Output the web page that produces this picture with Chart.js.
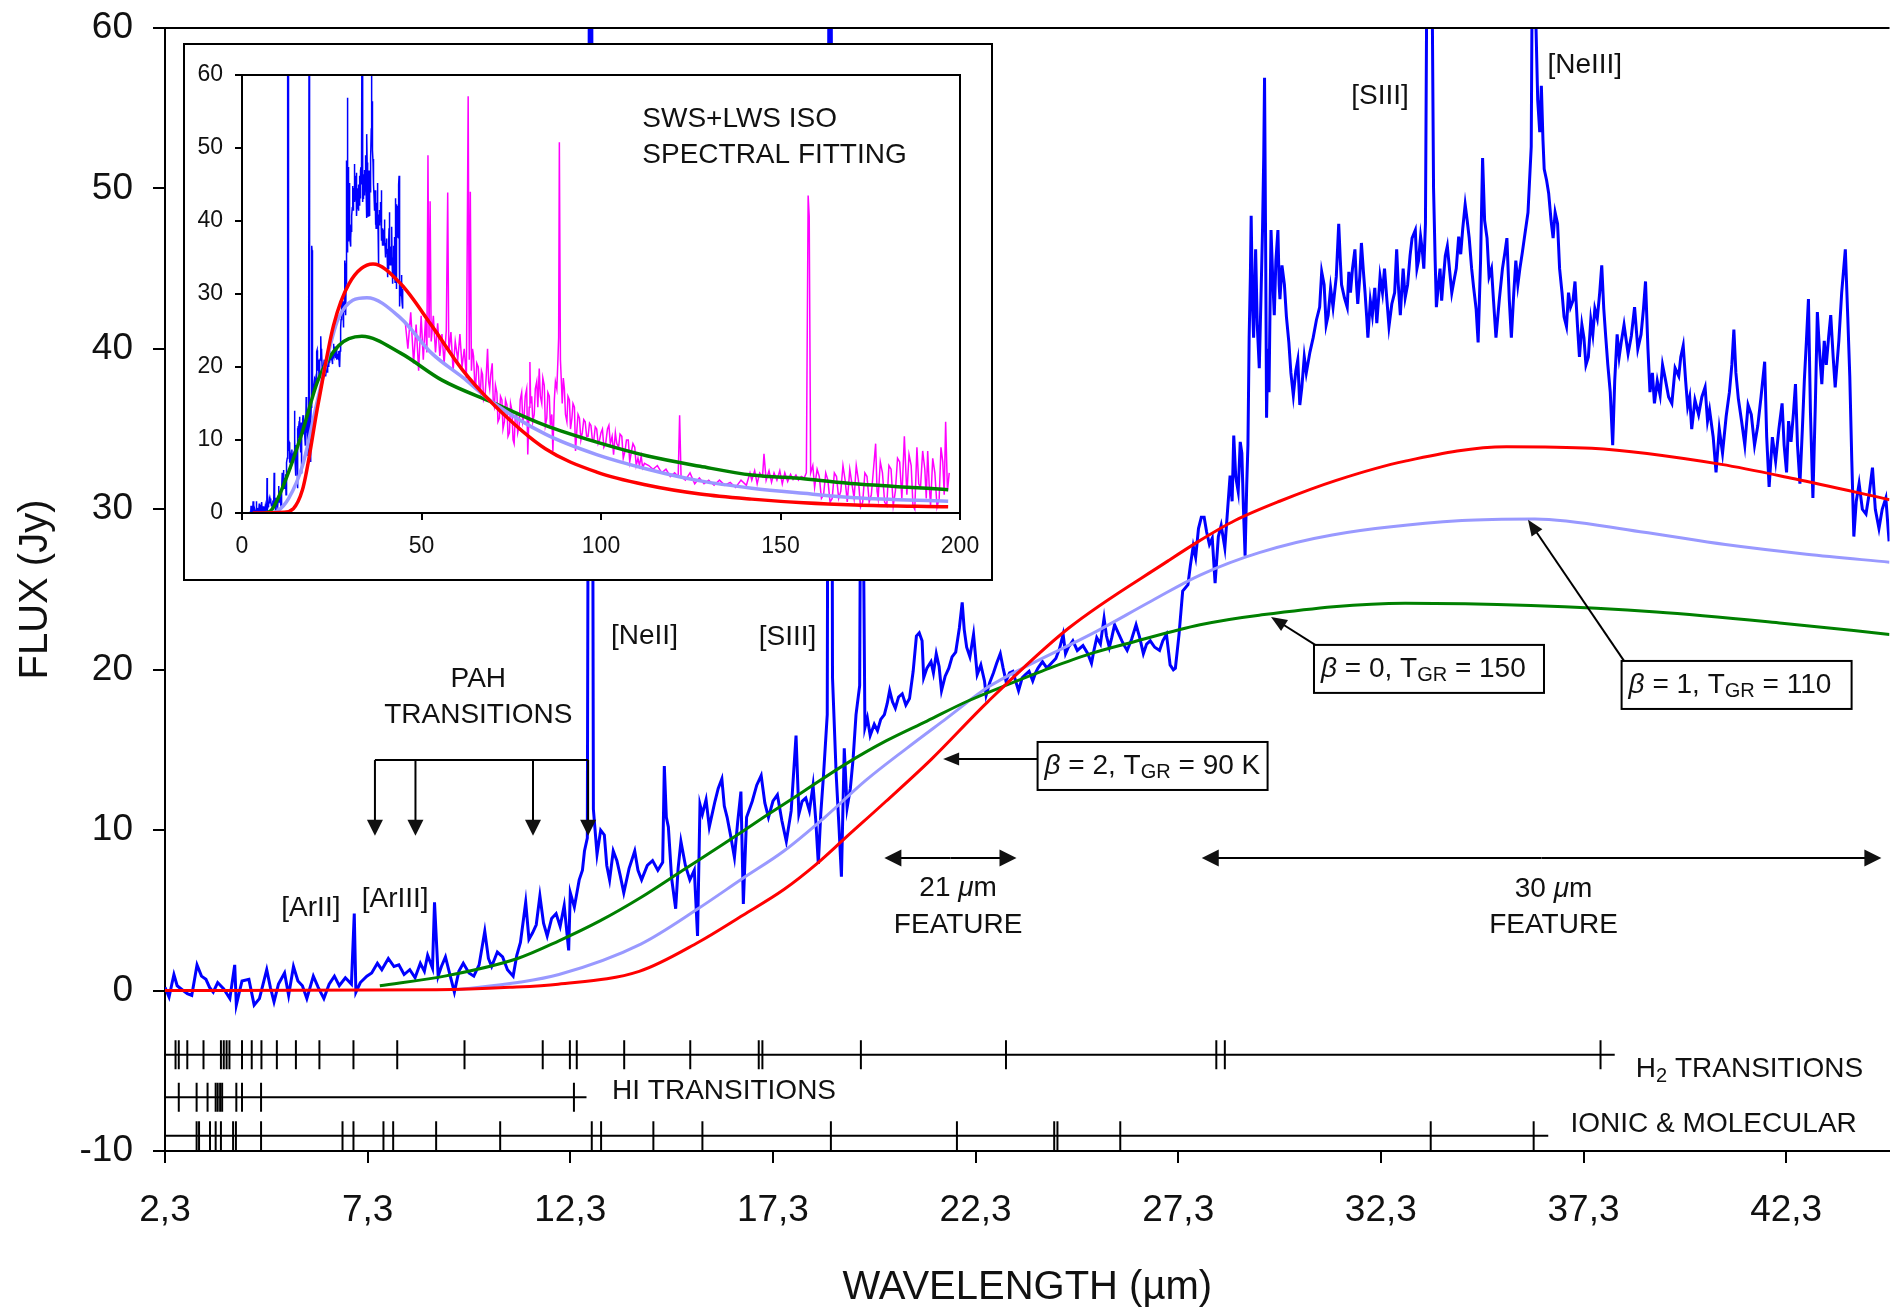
<!DOCTYPE html>
<html lang="en">
<head>
<meta charset="utf-8">
<title>SWS+LWS spectrum</title>
<script src="https://cdn.jsdelivr.net/npm/chart.js@4.4.0/dist/chart.umd.min.js"></script>
<style>
html, body { margin: 0; padding: 0; background: #fff; overflow: hidden; }
#wrap { position: relative; width: 1890px; height: 1308px; overflow: hidden; }
#main { position: absolute; left: 0; top: 0; display: block; }
#inset { position: absolute; left: 183px; top: 43px; display: block; }
</style>
</head>
<body>
<div id="wrap">
<canvas id="main" width="1906" height="1308"></canvas>
<canvas id="inset" width="810" height="538"></canvas>
</div>
<script>
// SWS spectrum, wavelength (micron) / flux (Jy)
const swsWave = [2.3,2.4,2.52,2.6,2.7,2.85,2.96,3.09,3.2,3.31,3.4,3.49,3.6,3.75,3.9,4.02,4.06,4.2,4.37,4.5,4.63,4.72,4.81,4.9,4.99,5.1,5.25,5.35,5.47,5.58,5.69,5.8,5.96,6.08,6.22,6.35,6.48,6.6,6.75,6.9,6.97,7.01,7.12,7.28,7.4,7.54,7.65,7.81,7.95,8.07,8.2,8.34,8.47,8.6,8.7,8.78,8.9,8.95,9.04,9.12,9.22,9.33,9.44,9.55,9.66,9.8,9.92,10.05,10.19,10.28,10.36,10.5,10.63,10.75,10.89,10.98,11.07,11.2,11.28,11.37,11.46,11.55,11.64,11.73,11.84,11.95,12.05,12.15,12.26,12.3,12.4,12.52,12.6,12.65,12.72,12.78,12.82,12.87,12.96,13.05,13.14,13.2,13.27,13.36,13.45,13.53,13.62,13.75,13.89,13.97,14.06,14.2,14.33,14.46,14.58,14.62,14.67,14.72,14.8,14.9,14.96,15.03,15.14,15.25,15.36,15.44,15.5,
  15.56,15.65,15.73,15.87,15.95,16.04,16.1,16.17,16.26,16.35,16.43,16.51,16.57,16.65,16.79,16.9,17.01,17.1,17.19,17.3,17.41,17.52,17.63,17.75,17.87,17.94,18.02,18.11,18.2,18.29,18.36,18.42,18.48,18.55,18.64,18.69,18.73,18.77,18.86,18.93,18.99,19.06,19.13,19.21,19.28,19.35,19.44,19.47,19.51,19.57,19.63,19.7,19.8,19.88,19.96,20.05,20.12,20.18,20.25,20.32,20.4,20.49,20.58,20.67,20.76,20.84,20.91,20.98,21.02,21.1,21.2,21.26,21.33,21.4,21.46,21.55,21.64,21.72,21.81,21.9,21.97,22.02,22.08,22.16,22.25,22.34,22.43,22.52,22.56,22.65,22.74,22.82,22.91,22.98,23.05,23.14,23.22,23.3,23.36,23.45,23.53,23.62,23.71,23.78,23.84,23.95,24.06,24.17,24.28,24.37,24.46,24.52,24.59,24.7,24.81,24.95,25.07,25.16,25.22,25.29,25.38,25.47,25.53,25.6,25.66,25.73,25.82,25.91,25.97,26.04,26.15,26.26,26.35,26.44,26.52,26.61,26.72,26.84,26.92,27.01,27.1,27.18,27.23,27.32,27.41,27.54,27.6,27.67,27.73,27.8,27.87,27.94,28.0,28.07,28.14,28.21,28.29,28.36,28.45,
  28.58,28.63,28.67,28.72,28.78,28.83,28.87,28.91,28.95,28.99,29.02,29.05,29.08,29.1,29.13,29.16,29.19,29.21,29.25,29.3,29.34,29.38,29.41,29.43,29.46,29.48,29.51,29.54,29.57,29.59,29.63,29.67,29.71,29.76,29.79,29.81,29.86,29.92,29.97,30.03,30.08,30.14,30.2,30.25,30.3,30.35,30.41,30.46,30.55,30.63,30.71,30.79,30.84,30.9,30.95,31.0,31.06,31.12,31.2,31.26,31.3,31.33,31.4,31.47,31.51,31.55,31.6,31.66,31.7,31.73,31.78,31.82,31.87,31.91,31.95,31.98,32.04,32.09,32.15,32.2,32.24,32.28,32.34,32.39,32.45,32.5,32.57,32.64,32.69,32.73,32.78,32.82,32.85,32.9,32.96,33.02,33.07,33.15,33.19,33.23,33.28,33.32,33.36,33.4,33.46,33.53,33.6,33.64,33.67,33.72,33.76,33.8,33.83,33.89,33.94,34.0,34.05,34.1,34.16,34.22,34.27,34.32,34.38,34.43,34.48,34.54,34.59,34.65,34.7,34.76,34.81,34.86,34.92,34.97,35.03,35.08,35.14,35.22,35.3,35.36,35.41,35.47,35.52,35.58,35.63,35.68,35.73,35.79,35.84,
  35.93,36.01,36.06,36.11,36.17,36.22,36.26,36.3,36.33,36.39,36.44,36.5,36.55,36.6,36.66,36.71,36.77,36.82,36.88,36.93,36.98,37.04,37.09,37.15,37.2,37.26,37.31,37.36,37.42,37.48,37.53,37.58,37.64,37.7,37.75,37.8,37.85,37.9,37.96,38.02,38.07,38.13,38.18,38.23,38.3,38.4,38.48,38.56,38.64,38.72,38.78,38.83,38.89,38.94,39.0,39.05,39.12,39.19,39.25,39.32,39.4,39.48,39.56,39.65,39.7,39.76,39.82,39.87,39.92,39.97,40.05,40.14,40.22,40.3,40.36,40.41,40.5,40.57,40.65,40.73,40.82,40.9,40.96,41.01,41.06,41.12,41.2,41.28,41.36,41.44,41.52,41.6,41.68,41.77,41.82,41.88,41.96,42.04,42.12,42.2,42.25,42.31,42.36,42.42,42.48,42.53,42.58,42.64,42.7,42.75,42.8,42.85,42.9,42.96,43.02,43.07,43.12,43.18,43.24,43.29,43.35,43.4,43.46,43.51,43.6,43.67,43.72,43.76,43.82,43.87,43.92,43.97,44.03,44.1,44.18,44.27,44.35,44.43,44.5,44.59,44.67,44.76,44.84];
const swsFlux = [0.2,-0.4,1.0,0.3,0.1,-0.2,-0.3,1.6,0.9,0.7,0.2,-0.1,0.5,0.1,-0.5,1.6,-0.9,0.6,0.7,-0.9,-0.5,0.4,1.3,0.2,-0.7,0.4,1.1,-0.3,1.5,0.6,0.3,-0.5,0.9,0.2,-0.5,0.4,0.9,0.3,0.8,0.4,4.8,-0.1,0.5,0.9,1.1,1.7,1.3,2.0,1.5,1.6,1.0,1.3,0.8,1.7,1.2,2.2,1.4,5.5,0.9,1.5,2.1,1.0,-0.1,1.2,1.7,1.1,0.9,1.6,3.7,2.0,1.5,2.4,2.1,1.3,0.9,2.2,3.0,5.5,3.2,3.6,4.1,5.9,4.2,3.4,4.5,4.8,4.0,5.3,2.5,6.1,5.2,6.9,7.5,8.7,9.5,75,75,11.3,8.5,10.0,9.7,7.8,6.9,8.7,8.1,7.2,6.1,7.6,8.7,7.5,6.9,7.8,8.1,7.5,8.0,14.0,10.8,10.2,7.0,5.1,7.6,9.3,7.8,6.9,7.5,3.4,11.6,
  11.0,11.9,10.2,11.8,12.6,13.2,11.5,10.8,9.6,8.3,10.5,12.4,5.4,10.8,11.8,12.8,13.4,11.7,10.8,11.8,12.2,10.6,9.3,11.2,15.9,11.0,11.8,12.0,11.2,12.8,10.5,7.9,11.0,13.5,17.2,75,75,19.5,13.5,10.2,7.1,15.1,11.4,12.6,14.5,17.2,19.0,36.6,36.0,16.4,17.0,15.9,16.6,16.2,16.9,17.2,17.9,18.7,18.0,17.6,18.3,18.5,17.8,18.2,19.9,22.1,22.3,21.8,19.5,20.1,20.5,19.8,21.0,20.2,18.7,19.6,20.1,20.8,21.1,22.6,24.2,22.5,21.4,20.8,22.2,19.7,20.3,19.3,18.4,19.2,19.8,20.4,21.0,20.1,19.3,19.8,19.9,19.2,18.7,19.5,19.7,19.9,19.3,19.8,20.1,20.5,20.1,20.4,20.7,21.3,22.2,21.0,21.4,21.8,21.2,21.5,21.0,20.4,21.2,22.0,21.6,23.2,22.1,21.4,22.0,22.8,22.3,21.8,21.5,21.2,21.9,22.8,22.0,21.0,21.6,21.8,21.4,21.2,21.8,22.2,20.3,20.0,20.1,22.2,24.9,25.3,26.5,27.7,27.0,28.8,29.5,29.5,28.6,27.8,28.2,25.4,28.3,29.0,27.6,
  32.1,30.5,34.6,32.0,31.1,34.2,33.5,30.0,27.1,31.5,34.0,40.7,44.5,48.3,43.0,40.7,44.0,46.2,41.5,38.8,43.0,47.4,52.0,56.9,45.0,35.7,40.0,37.3,43.5,47.4,44.5,42.1,45.5,47.4,44.0,43.1,45.2,44.0,42.0,40.4,38.5,37.1,38.6,39.3,36.5,37.6,39.5,38.5,39.8,40.7,41.8,42.6,44.8,44.0,41.5,42.1,43.8,42.6,44.5,47.8,45.5,44.0,43.2,42.6,44.8,43.5,45.0,46.2,44.0,42.8,44.5,46.6,44.8,43.5,42.0,40.7,43.0,42.1,43.8,41.6,43.0,44.5,43.5,45.0,43.0,41.4,42.8,43.5,46.2,44.0,42.1,43.8,45.0,43.2,44.0,45.8,46.9,47.4,45.0,45.5,47.0,46.2,45.0,47.8,75,75,50.0,45.5,42.6,44.0,45.0,43.0,44.0,45.8,46.4,44.8,43.5,44.2,45.0,47.0,45.9,47.5,49.0,48.0,46.9,45.0,43.8,42.5,40.4,45.5,51.9,48.0,46.9,44.5,45.0,43.0,40.7,43.0,45.0,46.0,46.9,43.0,40.7,43.5,45.5,44.0,45.0,46.0,46.9,
  48.5,52.6,75,62,55.5,53.5,56.4,53.0,51.2,50.5,49.7,48.0,46.9,48.5,47.8,45.0,43.5,42.0,41.4,43.5,42.6,43.0,44.2,41.5,39.5,41.5,40.7,39.0,39.5,41.8,40.9,42.5,41.9,43.5,45.2,42.5,40.7,39.0,37.3,34.0,38.0,40.9,39.5,40.4,41.5,39.7,40.8,42.6,40.0,40.9,42.5,44.2,40.0,37.3,38.5,36.6,38.0,37.1,39.0,38.1,37.0,36.6,38.8,38.3,39.5,40.2,38.0,36.4,37.0,35.0,36.8,35.9,37.0,37.6,35.5,36.2,34.5,32.3,35.0,33.5,35.8,37.3,39.0,41.2,38.5,36.9,35.5,34.0,36.5,35.9,34.0,35.2,37.0,39.2,34.5,31.4,34.5,33.0,35.0,36.6,34.0,32.3,35.5,34.2,36.0,37.8,34.0,31.6,35.0,38.1,40.5,43.1,36.0,30.7,36.5,42.3,40.0,37.8,40.5,39.0,40.8,42.1,39.5,37.6,40.5,43.5,45.0,46.2,42.0,38.3,33.0,28.3,30.5,31.6,30.0,29.7,31.0,32.6,30.0,28.8,30.0,30.7,28.0];

// LWS spectrum (inset only)
const lwsWave = [45.5,46.2,47.0,47.8,48.5,49.2,49.9,50.5,51.1,51.5,51.8,52.1,52.4,52.7,53.3,53.9,54.5,55.1,55.7,56.3,56.9,57.3,57.6,58.2,58.8,59.4,60.1,60.7,61.3,61.9,62.5,63.0,63.3,63.6,
  63.9,64.2,64.5,64.8,65.1,65.4,65.8,66.1,66.4,66.7,67.0,67.3,67.7,68.0,68.4,68.7,69.0,69.3,69.7,70.0,70.3,70.6,71.0,71.3,71.7,72.0,72.4,72.7,73.1,73.4,73.8,74.1,74.5,74.8,75.2,75.5,75.8,76.1,76.5,76.8,77.2,77.5,77.9,78.2,78.6,78.9,79.3,79.6,80.0,80.2,80.4,80.7,81.0,81.4,81.7,82.1,82.4,82.8,83.1,83.5,83.8,84.2,84.5,84.9,85.2,85.6,85.9,86.3,86.6,87.0,87.3,87.7,88.0,88.2,88.4,88.7,89.0,89.2,89.5,89.8,90.1,90.5,90.8,91.2,91.5,91.9,92.2,92.6,92.9,93.3,93.6,94.0,94.4,94.8,95.2,95.6,96.0,96.4,96.8,97.2,97.6,98.0,98.4,98.8,99.2,99.6,100.0,100.4,100.8,101.3,101.8,102.2,102.6,103.1,103.5,104.0,104.4,104.9,105.3,105.8,106.2,106.7,107.1,107.6,108.0,108.5,108.9,109.4,109.8,110.3,110.7,111.2,111.6,112.1,
  113.3,114.5,115.7,116.9,118.1,119.3,120.5,121.5,121.9,122.3,123.5,124.8,126.1,127.4,128.7,130.0,131.5,133.0,134.5,136.0,137.5,139.0,140.5,141.5,142.0,142.8,143.5,144.2,145.0,145.4,146.0,146.8,147.5,148.2,149.0,149.8,150.5,151.2,152.0,152.8,153.5,154.3,155.0,155.8,156.6,157.2,157.7,158.0,158.4,159.0,159.5,160.2,160.8,161.4,162.0,162.6,163.2,163.8,164.4,165.0,165.6,166.2,166.8,167.4,168.0,168.6,169.3,169.9,170.5,171.1,171.7,172.3,172.9,173.5,174.1,174.7,175.3,175.9,176.5,176.9,177.2,177.8,178.4,179.0,179.6,180.2,180.8,181.4,182.0,182.6,183.2,183.8,184.5,185.2,185.8,186.4,186.9,187.4,188.0,188.5,189.0,189.6,190.2,190.6,191.0,191.4,191.8,192.4,193.0,193.6,194.2,194.7,195.2,195.6,196.0,196.5,197.0];
const lwsFlux = [26.0,22.5,27.5,20.5,25.8,19.5,27.0,21.0,26.5,22.0,49.0,24.0,42.7,23.5,27.0,22.0,26.0,21.5,24.5,20.5,25.0,43.9,22.0,24.8,19.5,23.5,21.0,24.5,20.0,22.5,18.5,57.1,21.0,44.0,
  19.5,22.5,21.5,18.0,17.5,20.5,20.0,17.0,16.5,19.5,19.0,15.5,16.0,18.5,22.5,18.0,17.0,19.0,20.5,15.0,14.5,17.5,16.5,12.5,13.0,16.0,15.5,11.5,12.5,15.5,14.8,10.5,11.0,15.0,14.0,10.0,9.5,13.0,13.5,11.0,12.0,15.5,16.5,12.5,13.5,16.0,17.0,8.0,14.5,20.7,15.0,16.0,12.5,13.5,17.0,18.0,14.5,19.8,16.0,15.0,18.5,17.5,12.0,13.0,16.5,16.0,12.0,13.5,8.5,15.5,18.0,17.0,21.0,24.0,50.8,21.0,17.5,15.0,18.5,17.0,13.5,12.5,16.0,15.5,11.5,13.0,15.0,14.5,8.5,11.5,13.5,13.0,10.0,11.0,12.8,12.5,10.5,10.5,12.3,12.0,10.0,10.0,11.8,11.5,9.5,10.0,11.0,11.5,9.0,9.5,11.5,12.0,9.5,10.5,8.0,11.0,9.5,9.0,10.8,10.5,7.5,8.5,10.0,10.0,7.0,8.5,9.5,9.0,6.5,7.5,6.5,7.8,6.2,6.8,
  6.5,6.0,6.5,5.5,6.0,5.0,5.5,5.0,13.4,5.0,4.5,5.5,4.0,4.8,4.0,4.5,3.8,4.5,3.8,4.2,3.5,4.5,3.8,5.5,4.5,5.8,4.0,5.5,5.0,8.1,4.5,5.8,4.2,5.5,4.5,5.8,4.0,5.5,4.3,5.3,4.6,5.2,4.5,5.0,4.8,5.5,43.5,40.6,5.5,6.5,3.5,6.0,5.0,2.0,2.5,5.5,4.5,1.5,2.0,5.5,5.0,2.0,3.0,6.5,4.5,1.5,6.0,4.0,2.0,6.5,4.5,0.8,1.5,5.5,5.0,1.5,2.5,6.0,9.5,3.0,2.0,7.0,5.5,1.5,1.0,6.5,6.0,1.0,3.0,7.5,7.0,2.0,10.5,2.5,8.0,6.5,1.0,0.5,9.0,4.0,3.5,8.5,6.0,2.0,8.5,4.0,1.0,7.5,5.5,0.8,2.0,9.0,7.0,2.5,12.5,3.0,5.5];

// model curves, main panel
const fitB2Wave = [2.3,9,10.8,12.0,14.0,15.45,16.56,17.57,18.38,19.08,20.09,21.2,22.6,24.6,27.06,27.8,28.7,29.8,31.2,32.9,35.4,37.5,40.7,42.5,44.85];
const fitB2Flux = [0,0.05,0.2,0.4,1.2,3.0,4.7,6.3,7.9,9.5,11.8,14.4,18.0,22.6,26.8,28.0,29.3,30.5,31.8,33.0,33.9,33.8,32.8,31.9,30.6];
const fitB1Wave = [9.5,11,12.02,14.04,15.45,16.56,17.57,18.58,19.59,20.6,21.6,22.6,23.62,25.14,26.65,27.84,29.3,31.1,34.3,36.1,38.7,40.8,42.8,44.85];
const fitB1Flux = [0.05,0.5,1.0,2.9,5.1,7.0,8.7,10.8,13.1,15.1,17.0,18.9,20.3,22.2,24.3,25.9,27.3,28.4,29.3,29.4,28.6,27.8,27.2,26.7];
const fitB0Wave = [7.6,9.2,11.0,12.02,13.03,14.04,15.05,16.06,17.07,18.07,19.08,20.09,21.1,22.11,23.12,24.13,25.14,26.15,27.84,29.3,32.9,36,39.1,42.2,44.85];
const fitB0Flux = [0.3,0.9,2.0,3.1,4.34,5.8,7.45,9.1,10.8,12.44,14.1,15.56,16.8,18.05,19.1,20.1,21.0,21.7,22.8,23.4,24.15,24.0,23.6,22.9,22.2];

// model curves, inset
const insB2Wave = [3,11.8,16.8,21.2,25.5,29.8,36.5,44.2,52.8,61.4,70,84.5,98.8,113,127.6,142,156.4,170.8,196.7];
const insB2Flux = [0,0.1,3.1,14.9,25.7,31.4,34.1,31.4,25.7,19.6,14.9,8.8,5.6,3.8,2.6,1.9,1.4,1.1,0.85];
const insB1Wave = [8,10,13,16.8,21.2,26.9,34.8,44.2,52.8,61.4,70,84.5,98.8,113,127.6,142,156.4,170.8,196.7];
const insB1Flux = [0,0.3,2.0,6.4,15.8,26.7,29.5,26.7,21.9,18.6,15.1,10.8,8.0,6.0,4.4,3.4,2.7,2.1,1.6];
const insB0Wave = [6,8,12.5,16.8,21.2,26.9,33.4,44.2,55.7,70,84.5,98.8,113,127.6,142,156.4,170.8,196.7];
const insB0Flux = [0,0.3,5.0,11.1,18.2,22.9,24.2,21.9,18.2,15.1,12.0,9.7,7.8,6.4,5.2,4.7,4.0,3.2];

// line identifications along the bottom
const h2Lines = [2.56,2.64,2.85,3.25,3.68,3.75,3.82,3.89,4.2,4.44,4.68,5.06,5.53,6.11,6.95,8.03,9.69,11.62,12.29,12.46,13.63,15.26,16.95,17.04,19.47,23.05,28.24,28.45,37.72];
const hiLines = [2.64,3.08,3.35,3.55,3.6,3.66,3.71,4.06,4.2,4.67,12.39];
const ionLines = [3.08,3.14,3.41,3.55,3.68,3.98,4.05,4.67,6.68,6.95,7.69,7.93,8.99,10.57,12.83,13.06,14.35,15.56,18.73,21.84,24.24,24.32,25.87,33.53,36.07];
const h2Row = [2.3, 38.07];
const hiRow = [2.3, 12.7];
const ionRow = [2.3, 36.43];

const xTicks = [2.3, 7.3, 12.3, 17.3, 22.3, 27.3, 32.3, 37.3, 42.3];

const FONT = '"Liberation Sans", Arial, sans-serif';
const INK = '#111';
const pts = (xs, ys) => xs.map((x, i) => ({x: x, y: ys[i]}));
const row = (xs, y) => xs.map(x => ({x: x, y: y}));

function head(ctx, x1, y1, x2, y2, len, wid) {
  const a = Math.atan2(y2 - y1, x2 - x1);
  const bx = x2 - len * Math.cos(a), by = y2 - len * Math.sin(a);
  ctx.beginPath();
  ctx.moveTo(x2, y2);
  ctx.lineTo(bx + wid / 2 * Math.sin(a), by - wid / 2 * Math.cos(a));
  ctx.lineTo(bx - wid / 2 * Math.sin(a), by + wid / 2 * Math.cos(a));
  ctx.closePath();
  ctx.fill();
}
function arrow(ctx, x1, y1, x2, y2, len, wid) {
  const a = Math.atan2(y2 - y1, x2 - x1);
  ctx.beginPath();
  ctx.moveTo(x1, y1);
  ctx.lineTo(x2 - len * 0.8 * Math.cos(a), y2 - len * 0.8 * Math.sin(a));
  ctx.stroke();
  head(ctx, x1, y1, x2, y2, len, wid);
}
// parts: [text, font, dy]
function rich(ctx, parts, x, y, align) {
  let w = 0;
  parts.forEach(p => { ctx.font = p[1]; w += ctx.measureText(p[0]).width; });
  let cx = align === 'center' ? x - w / 2 : x;
  ctx.textAlign = 'left';
  ctx.textBaseline = 'middle';
  parts.forEach(p => {
    ctx.font = p[1];
    ctx.fillText(p[0], cx, y + (p[2] || 0));
    cx += ctx.measureText(p[0]).width;
  });
  return w;
}

const F28 = '28px ' + FONT, F20 = '20px ' + FONT, I28 = 'italic 28px ' + FONT;

const mainNotes = {
  id: 'mainNotes',
  afterDraw(chart) {
    const ctx = chart.ctx, a = chart.chartArea;
    const X = v => chart.scales.x.getPixelForValue(v);
    const Y = v => chart.scales.y.getPixelForValue(v);
    ctx.save();
    ctx.strokeStyle = '#000';
    ctx.fillStyle = INK;
    ctx.lineWidth = 2;
    // top frame line
    ctx.beginPath(); ctx.moveTo(a.left, a.top); ctx.lineTo(a.right, a.top); ctx.stroke();

    // plain labels
    ctx.font = F28; ctx.textAlign = 'center'; ctx.textBaseline = 'middle';
    [['[ArII]', 5.9, 5.15], ['[ArIII]', 7.98, 5.69], ['PAH', 10.03, 19.4], ['TRANSITIONS', 10.03, 17.14],
     ['[NeII]', 14.13, 22.09], ['[SIII]', 17.66, 22.03], ['[SIII]', 32.28, 55.76], ['[NeIII]', 37.33, 57.67],
     ['FEATURE', 21.87, 4.06], ['FEATURE', 36.56, 4.09]].forEach(n => ctx.fillText(n[0], X(n[1]), Y(n[2])));
    rich(ctx, [['21 ', F28], ['\u03bc', I28], ['m', F28]], X(21.87), Y(6.36), 'center');
    rich(ctx, [['30 ', F28], ['\u03bc', I28], ['m', F28]], X(36.56), Y(6.33), 'center');

    // PAH bracket
    const pah = [7.48, 8.48, 11.38, 12.74];
    ctx.beginPath(); ctx.moveTo(X(7.48), Y(14.37)); ctx.lineTo(X(12.74), Y(14.37)); ctx.stroke();
    pah.forEach(v => arrow(ctx, X(v), Y(14.37), X(v), Y(9.65), 16, 16));

    // feature ranges
    [[20.05, 23.31], [27.88, 44.65]].forEach(r => {
      const y = Y(8.26), m = (X(r[0]) + X(r[1])) / 2;
      arrow(ctx, m, y, X(r[0]), y, 17, 17);
      arrow(ctx, m, y, X(r[1]), y, 17, 17);
    });

    // fit labels in boxes
    const boxes = [
      {x: 23.83, y: 14.0, t: '2', v: '90 K', tail: [23.83, 14.43], tip: [21.5, 14.43]},
      {x: 30.65, y: 20.05, t: '0', v: '150', tail: [30.68, 21.55], tip: [29.59, 23.29]},
      {x: 38.24, y: 19.05, t: '1', v: '110', tail: [38.3, 20.55], tip: [35.93, 29.35]}
    ];
    boxes.forEach(b => {
      const l = X(b.x), c = Y(b.y);
      ctx.fillStyle = '#fff';
      ctx.fillRect(l, c - 24, 230, 48);
      ctx.strokeRect(l, c - 24, 230, 48);
      ctx.fillStyle = INK;
      rich(ctx, [['\u03b2', I28], [' = ' + b.t + ', T', F28], ['GR', F20, 7], [' = ' + b.v, F28]], l + 7, c, 'left');
      arrow(ctx, X(b.tail[0]), Y(b.tail[1]), X(b.tip[0]), Y(b.tip[1]), 16, 13);
    });

    // transition labels
    rich(ctx, [['H', F28], ['2', F20, 8], [' TRANSITIONS', F28]], X(38.59), Y(-4.88), 'left');
    rich(ctx, [['HI TRANSITIONS', F28]], X(13.33), Y(-6.3), 'left');
    rich(ctx, [['IONIC & MOLECULAR', F28]], X(36.98), Y(-8.34), 'left');
    ctx.restore();
  }
};

function lineSet(xs, ys, color, width, order) {
  return {data: pts(xs, ys), borderColor: color, borderWidth: width, showLine: true,
    pointRadius: 0, order: order, cubicInterpolationMode: 'monotone'};
}
function tickRow(xs, y) {
  return {data: row(xs, y), showLine: false, pointStyle: 'line', pointRotation: 90,
    pointRadius: 14.5, pointBorderWidth: 2, pointBorderColor: '#000', borderColor: '#000', order: 0, clip: false};
}
function rowLine(xs, y) {
  return {data: row(xs, y), showLine: true, borderColor: '#000', borderWidth: 2, pointRadius: 0, order: 0};
}

const axisFont = size => ({family: FONT, size: size});

new Chart(document.getElementById('main'), {
  type: 'scatter',
  data: {
    datasets: [
      {data: pts(swsWave, swsFlux), borderColor: '#0000ff', borderWidth: 3, showLine: true, pointRadius: 0, order: 5},
      lineSet(fitB1Wave, fitB1Flux, '#9999ff', 3, 4),
      lineSet(fitB0Wave, fitB0Flux, '#008000', 3, 3),
      lineSet(fitB2Wave, fitB2Flux, '#ff0000', 3, 2),
      rowLine(h2Row, -4.0), tickRow(h2Lines, -4.0),
      rowLine(hiRow, -6.65), tickRow(hiLines, -6.65),
      rowLine(ionRow, -9.05), tickRow(ionLines, -9.05)
    ]
  },
  options: {
    responsive: false,
    animation: false,
    events: [],
    layout: {padding: {top: 28, right: 0, left: 0, bottom: 0}},
    plugins: {legend: {display: false}, tooltip: {enabled: false}},
    scales: {
      x: {
        type: 'linear', min: 2.3, max: 44.85,
        afterBuildTicks: s => { s.ticks = xTicks.map(v => ({value: v})); },
        afterFit: s => { s.height = 157; s.paddingRight = 0; },
        ticks: {autoSkip: false, maxRotation: 0, padding: 26, color: INK, font: axisFont(37),
          callback: v => v.toFixed(1).replace('.', ',')},
        grid: {drawOnChartArea: false, drawTicks: true, tickLength: 12, color: '#000', lineWidth: 2},
        border: {display: true, color: '#000', width: 2},
        title: {display: true, text: 'WAVELENGTH (\u00b5m)', color: INK, font: {family: FONT, size: 40, lineHeight: 1.0}, padding: {top: 0, bottom: 0}}
      },
      y: {
        min: -10, max: 60,
        afterFit: s => { s.width = 165; s.paddingTop = 0; },
        ticks: {stepSize: 10, padding: 20, color: INK, font: {family: FONT, size: 37, lineHeight: 0.3}},
        grid: {drawOnChartArea: false, drawTicks: true, tickLength: 12, color: '#000', lineWidth: 2},
        border: {display: true, color: '#000', width: 2},
        title: {display: true, text: 'FLUX (Jy)', color: INK, font: axisFont(40), padding: {top: 12, bottom: 0}}
      }
    }
  },
  plugins: [mainNotes]
});

const insetFrame = {
  id: 'insetFrame',
  beforeDraw(chart) {
    const ctx = chart.ctx;
    ctx.save();
    ctx.fillStyle = '#fff';
    ctx.fillRect(0, 0, chart.width, chart.height);
    ctx.restore();
  },
  afterDraw(chart) {
    const ctx = chart.ctx, a = chart.chartArea;
    ctx.save();
    ctx.strokeStyle = '#000';
    ctx.lineWidth = 2;
    ctx.strokeRect(1, 1, chart.width - 2, chart.height - 2);
    ctx.strokeRect(a.left, a.top, a.right - a.left, a.bottom - a.top);
    ctx.fillStyle = INK;
    ctx.font = F28;
    ctx.textAlign = 'left';
    ctx.textBaseline = 'middle';
    const X = v => chart.scales.x.getPixelForValue(v);
    const Y = v => chart.scales.y.getPixelForValue(v);
    ctx.fillText('SWS+LWS ISO', X(111.5), Y(54.0));
    ctx.fillText('SPECTRAL FITTING', X(111.5), Y(49.0));
    ctx.restore();
  }
};

new Chart(document.getElementById('inset'), {
  type: 'scatter',
  data: {
    datasets: [
      {data: pts(swsWave, swsFlux), borderColor: '#0000ff', borderWidth: 1.5, showLine: true, pointRadius: 0, order: 6},
      {data: pts(lwsWave, lwsFlux), borderColor: '#ff00ff', borderWidth: 1.5, showLine: true, pointRadius: 0, order: 5},
      lineSet(insB0Wave, insB0Flux, '#008000', 3.5, 4),
      lineSet(insB1Wave, insB1Flux, '#9999ff', 3.5, 3),
      lineSet(insB2Wave, insB2Flux, '#ff0000', 3.5, 2)
    ]
  },
  options: {
    responsive: false,
    animation: false,
    events: [],
    layout: {padding: {top: 32, right: 33, left: 0, bottom: 0}},
    plugins: {legend: {display: false}, tooltip: {enabled: false}},
    scales: {
      x: {
        type: 'linear', min: 0, max: 200,
        afterFit: s => { s.height = 68; },
        ticks: {stepSize: 50, maxRotation: 0, padding: 13, color: INK, font: axisFont(23)},
        grid: {drawOnChartArea: false, drawTicks: true, tickLength: 7, color: '#000', lineWidth: 2},
        border: {display: true, color: '#000', width: 2}
      },
      y: {
        min: 0, max: 60,
        afterFit: s => { s.width = 59; },
        ticks: {stepSize: 10, padding: 12, color: INK, font: axisFont(23)},
        grid: {drawOnChartArea: false, drawTicks: true, tickLength: 7, color: '#000', lineWidth: 2},
        border: {display: true, color: '#000', width: 2}
      }
    }
  },
  plugins: [insetFrame]
});
</script>
</body>
</html>
